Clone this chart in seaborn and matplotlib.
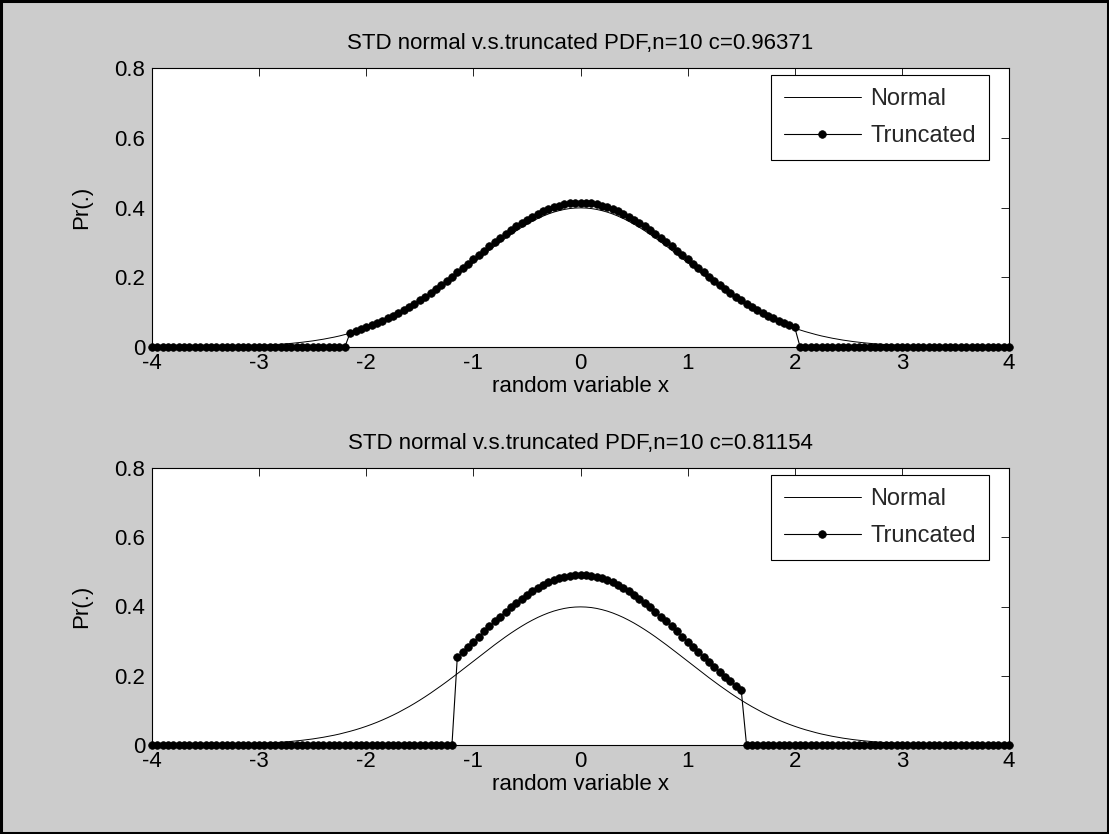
import numpy as np
import pandas as pd
import matplotlib
matplotlib.use("Agg")
import matplotlib.pyplot as plt
import seaborn as sns

# Grid of the random variable: -4 .. 4 in steps of 0.05 (161 points)
x_start, x_stop, n_points = -4.0, 4.0, 161
x_values = np.linspace(x_start, x_stop, n_points)

# Standard normal PDF sampled on the grid
normal_pdf = [
    0.0001, 0.0002, 0.0002, 0.0002, 0.0003, 0.0004, 0.0004, 0.0005, 0.0006, 0.0007,
    0.0009, 0.0010, 0.0012, 0.0015, 0.0017, 0.0020, 0.0024, 0.0028, 0.0033, 0.0038,
    0.0044, 0.0051, 0.0060, 0.0069, 0.0079, 0.0091, 0.0104, 0.0119, 0.0136, 0.0154,
    0.0175, 0.0198, 0.0224, 0.0252, 0.0283, 0.0317, 0.0355, 0.0396, 0.0440, 0.0488,
    0.0540, 0.0596, 0.0656, 0.0721, 0.0790, 0.0863, 0.0940, 0.1023, 0.1109, 0.1200,
    0.1295, 0.1394, 0.1497, 0.1604, 0.1714, 0.1826, 0.1942, 0.2059, 0.2179, 0.2299,
    0.2420, 0.2541, 0.2661, 0.2780, 0.2897, 0.3011, 0.3123, 0.3230, 0.3332, 0.3429,
    0.3521, 0.3605, 0.3683, 0.3752, 0.3814, 0.3867, 0.3910, 0.3945, 0.3970, 0.3984,
    0.3989,
    0.3984, 0.3970, 0.3945, 0.3910, 0.3867, 0.3814, 0.3752, 0.3683, 0.3605, 0.3521,
    0.3429, 0.3332, 0.3230, 0.3123, 0.3011, 0.2897, 0.2780, 0.2661, 0.2541, 0.2420,
    0.2299, 0.2179, 0.2059, 0.1942, 0.1826, 0.1714, 0.1604, 0.1497, 0.1394, 0.1295,
    0.1200, 0.1109, 0.1023, 0.0940, 0.0863, 0.0790, 0.0721, 0.0656, 0.0596, 0.0540,
    0.0488, 0.0440, 0.0396, 0.0355, 0.0317, 0.0283, 0.0252, 0.0224, 0.0198, 0.0175,
    0.0154, 0.0136, 0.0119, 0.0104, 0.0091, 0.0079, 0.0069, 0.0060, 0.0051, 0.0044,
    0.0038, 0.0033, 0.0028, 0.0024, 0.0020, 0.0017, 0.0015, 0.0012, 0.0010, 0.0009,
    0.0007, 0.0006, 0.0005, 0.0004, 0.0004, 0.0003, 0.0002, 0.0002, 0.0002, 0.0001,
]

# Truncated PDF, support [-2.15, 2.00], c = 0.96371
truncated_pdf_1 = [0.0] * 37 + [
    0.0411, 0.0457, 0.0506, 0.0560, 0.0618, 0.0681, 0.0748, 0.0820, 0.0895, 0.0975,
    0.1062, 0.1151, 0.1245, 0.1344, 0.1447, 0.1553, 0.1664, 0.1779, 0.1895, 0.2015,
    0.2137, 0.2261, 0.2386, 0.2511, 0.2637, 0.2761, 0.2885, 0.3006, 0.3124, 0.3241,
    0.3352, 0.3458, 0.3558, 0.3654, 0.3741, 0.3822, 0.3893, 0.3958, 0.4013, 0.4057,
    0.4094, 0.4119, 0.4134, 0.4139, 0.4134, 0.4119, 0.4094, 0.4057, 0.4013, 0.3958,
    0.3893, 0.3822, 0.3741, 0.3654, 0.3558, 0.3458, 0.3352, 0.3241, 0.3124, 0.3006,
    0.2885, 0.2761, 0.2637, 0.2511, 0.2386, 0.2261, 0.2137, 0.2015, 0.1895, 0.1779,
    0.1664, 0.1553, 0.1447, 0.1344, 0.1245, 0.1151, 0.1062, 0.0975, 0.0895, 0.0820,
    0.0748, 0.0681, 0.0618, 0.0560,
] + [0.0] * 40

# Truncated PDF, support [-1.15, 1.50], c = 0.81154
truncated_pdf_2 = [0.0] * 57 + [
    0.2537, 0.2685, 0.2833, 0.2982, 0.3131, 0.3279, 0.3426, 0.3570, 0.3710, 0.3848,
    0.3980, 0.4106, 0.4225, 0.4339, 0.4442, 0.4538, 0.4623, 0.4700, 0.4765, 0.4818,
    0.4861, 0.4892, 0.4909, 0.4915, 0.4909, 0.4892, 0.4861, 0.4818, 0.4765, 0.4700,
    0.4623, 0.4538, 0.4442, 0.4339, 0.4225, 0.4106, 0.3980, 0.3848, 0.3710, 0.3570,
    0.3426, 0.3279, 0.3131, 0.2982, 0.2833, 0.2685, 0.2537, 0.2393, 0.2250, 0.2112,
    0.1976, 0.1845, 0.1718, 0.1596,
] + [0.0] * 50

titles = [
    "STD normal v.s.truncated PDF,n=10 c=0.96371",
    "STD normal v.s.truncated PDF,n=10 c=0.81154",
]
x_ticks = [-4, -3, -2, -1, 0, 1, 2, 3, 4]
y_ticks = [0, 0.2, 0.4, 0.6, 0.8]
y_tick_labels = ["0", "0.2", "0.4", "0.6", "0.8"]

sns.set_theme(style="white")
plt.rcParams["font.family"] = ["Liberation Sans", "DejaVu Sans"]
plt.rcParams["xtick.direction"] = "in"
plt.rcParams["ytick.direction"] = "in"

FS = 16

fig = plt.figure(figsize=(11.09, 8.34), dpi=100, facecolor="#cccccc")
fig.patches.append(plt.Rectangle((0.001, 0.001), 0.998, 0.998, transform=fig.transFigure,
                                 fill=False, edgecolor="black", linewidth=2.2, zorder=10))

axes_pos = [
    [152 / 1109, 1 - 347 / 834, 857 / 1109, 279 / 834],
    [152 / 1109, 1 - 745 / 834, 857 / 1109, 277 / 834],
]

for pos, title, trunc in zip(axes_pos, titles, [truncated_pdf_1, truncated_pdf_2]):
    ax = fig.add_axes(pos)
    df = pd.DataFrame({"x": x_values, "normal": normal_pdf, "truncated": trunc})
    sns.lineplot(data=df, x="x", y="normal", ax=ax, color="black", linewidth=0.7,
                 label="Normal")
    sns.lineplot(data=df, x="x", y="truncated", ax=ax, color="black", linewidth=0.8,
                 marker="o", markersize=5.5, markeredgecolor="black",
                 markerfacecolor="black", markeredgewidth=0.5, label="Truncated",
                 clip_on=False)
    ax.set_xlim(-4, 4)
    ax.set_ylim(0, 0.8)
    ax.set_xticks(x_ticks)
    ax.set_xticklabels([str(t) for t in x_ticks])
    ax.set_yticks(y_ticks)
    ax.set_yticklabels(y_tick_labels)
    ax.tick_params(axis="both", which="both", top=True, right=True, length=6,
                   width=0.6, color="black", labelsize=FS, labelcolor="black")
    ax.tick_params(axis="x", pad=4)
    ax.tick_params(axis="y", pad=5)
    for spine in ax.spines.values():
        spine.set_visible(True)
        spine.set_color("black")
        spine.set_linewidth(0.8)
    ax.set_facecolor("white")
    ax.set_title(title, fontsize=FS, pad=14, color="black")
    ax.set_xlabel("random variable x", fontsize=FS, labelpad=2, color="black")
    ax.set_ylabel("Pr(.)", fontsize=FS, labelpad=16, color="black")
    leg = ax.legend(loc="upper right", bbox_to_anchor=(0.9767, 0.975), fontsize=FS + 1,
                    frameon=True, fancybox=False, edgecolor="black", framealpha=1,
                    handlelength=3.3, handletextpad=0.38, borderpad=0.55,
                    labelspacing=0.65, borderaxespad=0)
    leg.get_frame().set_linewidth(0.8)

fig.savefig("out.png", dpi=100, facecolor=fig.get_facecolor())
